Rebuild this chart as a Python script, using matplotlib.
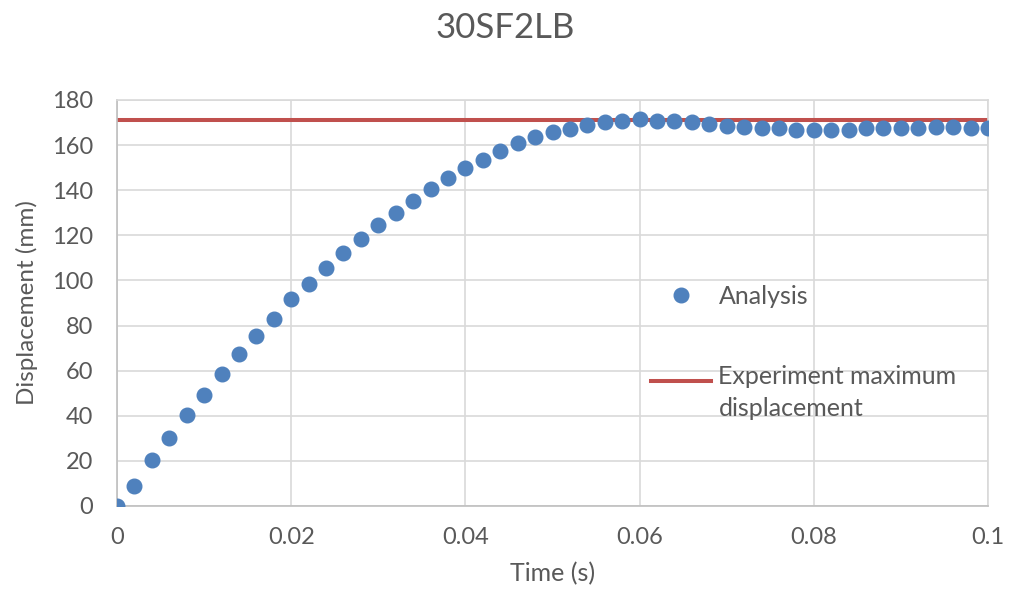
import matplotlib
matplotlib.use("Agg")
import matplotlib.pyplot as plt
from matplotlib.ticker import MultipleLocator, FuncFormatter
from matplotlib.legend_handler import HandlerLine2D

# Time steps (s)
time_s = [0.000, 0.002, 0.004, 0.006, 0.008, 0.010, 0.012, 0.014, 0.016, 0.018,
          0.020, 0.022, 0.024, 0.026, 0.028, 0.030, 0.032, 0.034, 0.036, 0.038,
          0.040, 0.042, 0.044, 0.046, 0.048, 0.050, 0.052, 0.054, 0.056, 0.058,
          0.060, 0.062, 0.064, 0.066, 0.068, 0.070, 0.072, 0.074, 0.076, 0.078,
          0.080, 0.082, 0.084, 0.086, 0.088, 0.090, 0.092, 0.094, 0.096, 0.098,
          0.100]

# Analysis displacement (mm)
analysis_mm = [0.0, 8.9, 20.4, 30.3, 40.3, 49.2, 58.5, 67.4, 75.4, 82.8,
               91.6, 98.4, 105.7, 112.3, 118.4, 124.6, 130.0, 135.4, 140.5, 145.4,
               149.8, 153.4, 157.5, 160.8, 163.7, 165.6, 167.3, 168.7, 170.2, 170.8,
               171.6, 170.8, 170.7, 170.1, 169.4, 168.6, 168.2, 167.4, 167.4, 166.7,
               166.7, 166.7, 166.7, 167.4, 167.4, 167.4, 167.4, 167.9, 168.2, 167.4,
               167.4]

# Experiment maximum displacement (mm)
experiment_max_mm = 171.3

title_text = "30SF2LB"
x_label = "Time (s)"
y_label = "Displacement (mm)"
label_analysis = "Analysis"
label_experiment = "Experiment maximum\ndisplacement"

TEXT = "#595959"
BLUE = "#4F81BD"
RED = "#C0504D"
GRID = "#D9D9D9"

plt.rcParams["font.family"] = ["Lato", "DejaVu Sans"]

LEG_FS = 18
LEG_LINESPACING = 1.43


class TopLineHandler(HandlerLine2D):
    """Line handle aligned with the first line of a two-line label."""

    def create_artists(self, legend, orig_handle, xdescent, ydescent,
                       width, height, fontsize, trans):
        shift = 0.5 * fontsize * LEG_LINESPACING + 0.25 * fontsize
        return super().create_artists(legend, orig_handle, xdescent,
                                      ydescent - shift, width, height,
                                      fontsize, trans)


fig = plt.figure(figsize=(10.11, 6.0), dpi=100)
ax = fig.add_axes([117 / 1011, 94 / 600, 871 / 1011, 406 / 600])

exp_line = ax.axhline(experiment_max_mm, color=RED, lw=2.9, zorder=2,
                      label=label_experiment)
pts, = ax.plot(time_s, analysis_mm, linestyle="none", marker="o",
               markersize=10.5, color=BLUE, zorder=3, label=label_analysis)

ax.set_xlim(0, 0.1)
ax.set_ylim(0, 180)
ax.xaxis.set_major_locator(MultipleLocator(0.02))
ax.yaxis.set_major_locator(MultipleLocator(20))
ax.xaxis.set_major_formatter(
    FuncFormatter(lambda v, p: f"{v:.2f}".rstrip("0").rstrip(".") if v else "0"))

ax.grid(True, color=GRID, lw=1.2, zorder=0)
ax.set_axisbelow(True)
for s in ax.spines.values():
    s.set_color(GRID)
    s.set_linewidth(1.2)
ax.spines["bottom"].set_color("#BFBFBF")
ax.spines["left"].set_color("#BFBFBF")

ax.tick_params(axis="both", length=0, labelsize=17, colors=TEXT)
ax.tick_params(axis="y", pad=17)
ax.tick_params(axis="x", pad=15)

ax.set_xlabel(x_label, fontsize=18, color=TEXT, labelpad=10)
ax.set_ylabel(y_label, fontsize=17.5, color=TEXT, labelpad=10)
fig.suptitle(title_text, fontsize=25, color=TEXT, y=1 - 28 / 600, va="center")

leg = fig.legend([pts, exp_line], [label_analysis, label_experiment],
                 loc="upper left", bbox_to_anchor=(651 / 1011, 1 - 285 / 600),
                 frameon=False, fontsize=LEG_FS, labelcolor=TEXT,
                 handlelength=2.4, handletextpad=0.3, borderpad=0,
                 borderaxespad=0, labelspacing=2.3,
                 handler_map={exp_line: TopLineHandler()})
for t in leg.get_texts():
    t.set_linespacing(LEG_LINESPACING)

fig.savefig("out.png", dpi=100)
